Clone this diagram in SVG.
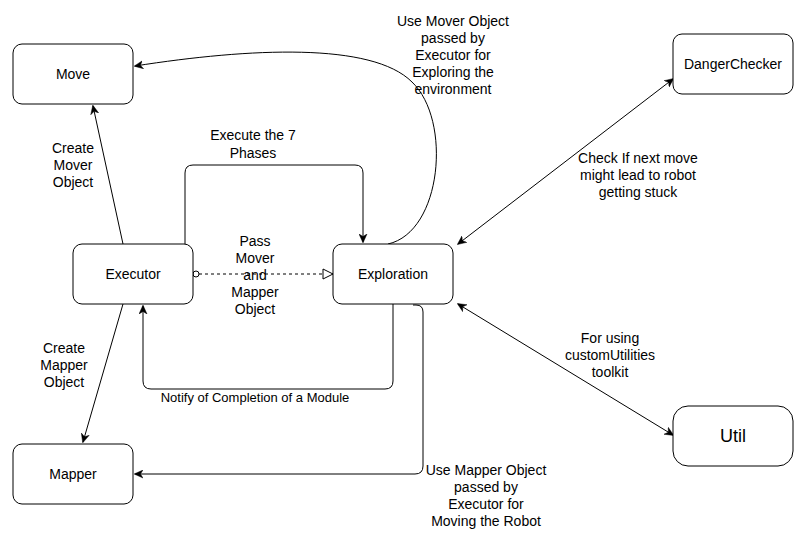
<svg xmlns="http://www.w3.org/2000/svg" width="807" height="540" viewBox="0 0 807 540">
<style>
.node rect{fill:#fff;stroke:#000;stroke-width:1}
.nl{font-family:"Liberation Sans",Arial,sans-serif;font-size:14px;fill:#000;text-anchor:middle}
.el{font-family:"Liberation Sans",Arial,sans-serif;font-size:14px;fill:#000;text-anchor:middle}
.edge{fill:none;stroke:#000;stroke-width:1}
</style>
<defs>
<marker id="arr" viewBox="0 0 10 10" refX="9" refY="5" markerWidth="9" markerHeight="9" markerUnits="userSpaceOnUse" orient="auto-start-reverse">
<path d="M0,0.5 L10,5 L0,9.5 L3,5 z" fill="#000" stroke="#000" stroke-width="0.5"/>
</marker>
<marker id="tri" viewBox="0 0 12 12" refX="11" refY="6" markerWidth="12" markerHeight="12" markerUnits="userSpaceOnUse" orient="auto">
<path d="M1,1 L11,6 L1,11 z" fill="#fff" stroke="#000" stroke-width="1"/>
</marker>
<marker id="circ" viewBox="0 0 10 10" refX="2" refY="5" markerWidth="10" markerHeight="10" markerUnits="userSpaceOnUse" orient="auto">
<circle cx="5" cy="5" r="3" fill="#fff" stroke="#000" stroke-width="1"/>
</marker>
</defs>
<g id="connectors">
<path class="edge" d="M123,244 L93,106" marker-end="url(#arr)"/>
<path class="edge" d="M123,304 L83,442" marker-end="url(#arr)"/>
<path class="edge" d="M185,244 L185,173 Q185,165 193,165 L355,165 Q363,165 363,173 L363,242" marker-end="url(#arr)"/>
<path class="edge" d="M193,274 L333,274" stroke-dasharray="3,3" marker-start="url(#circ)" marker-end="url(#tri)"/>
<path class="edge" d="M393,304 L393,381 Q393,389 385,389 L151,389 Q143,389 143,381 L143,306" marker-end="url(#arr)"/>
<path class="edge" d="M413,305 L416,305 Q423,305 423,312 L423,466 Q423,474 415,474 L135,474" marker-end="url(#arr)"/>
<path class="edge" d="M388,244 C442,232 452,120 412,82 C372,42 250,48 135,66" marker-end="url(#arr)"/>
<path class="edge" d="M458,244 L673,79" marker-start="url(#arr)" marker-end="url(#arr)"/>
<path class="edge" d="M458,304 L673,435" marker-start="url(#arr)" marker-end="url(#arr)"/>
<g class="el">
<text x="73" y="153">Create</text><text x="73" y="170">Mover</text><text x="73" y="187">Object</text>
<text x="64" y="353">Create</text><text x="64" y="370">Mapper</text><text x="64" y="387">Object</text>
<text x="253" y="140">Execute the 7</text><text x="253" y="158">Phases</text>
<text x="255" y="246">Pass</text><text x="255" y="263">Mover</text><text x="255" y="280">and</text><text x="255" y="297">Mapper</text><text x="255" y="314">Object</text>
<text x="255" y="402" style="font-size:13px">Notify of Completion of a Module</text>
<text x="486" y="475">Use Mapper Object</text><text x="486" y="492">passed by</text><text x="486" y="509">Executor for</text><text x="486" y="526">Moving the Robot</text>
<text x="453" y="26">Use Mover Object</text><text x="453" y="43">passed by</text><text x="453" y="60">Executor for</text><text x="453" y="77">Exploring the</text><text x="453" y="94">environment</text>
<text x="638" y="163">Check If next move</text><text x="638" y="180">might lead to robot</text><text x="638" y="197">getting stuck</text>
<text x="610" y="343">For using</text><text x="610" y="360">customUtilities</text><text x="610" y="377">toolkit</text>
</g>
</g>
<g id="move" class="node"><rect x="13" y="44" width="120" height="60" rx="9"/><text class="nl" x="73" y="79">Move</text></g>
<g id="executor" class="node"><rect x="73" y="244" width="120" height="60" rx="9"/><text class="nl" x="133" y="279">Executor</text></g>
<g id="exploration" class="node"><rect x="333" y="244" width="120" height="60" rx="9"/><text class="nl" x="393" y="279">Exploration</text></g>
<g id="mapper" class="node"><rect x="13" y="444" width="120" height="60" rx="9"/><text class="nl" x="73" y="479">Mapper</text></g>
<g id="dangerchecker" class="node"><rect x="673" y="34" width="120" height="60" rx="9"/><text class="nl" x="733" y="69">DangerChecker</text></g>
<g id="util" class="node"><rect x="673" y="406" width="120" height="60" rx="15"/><text class="nl" x="733" y="442" style="font-size:18px">Util</text></g>
</svg>
